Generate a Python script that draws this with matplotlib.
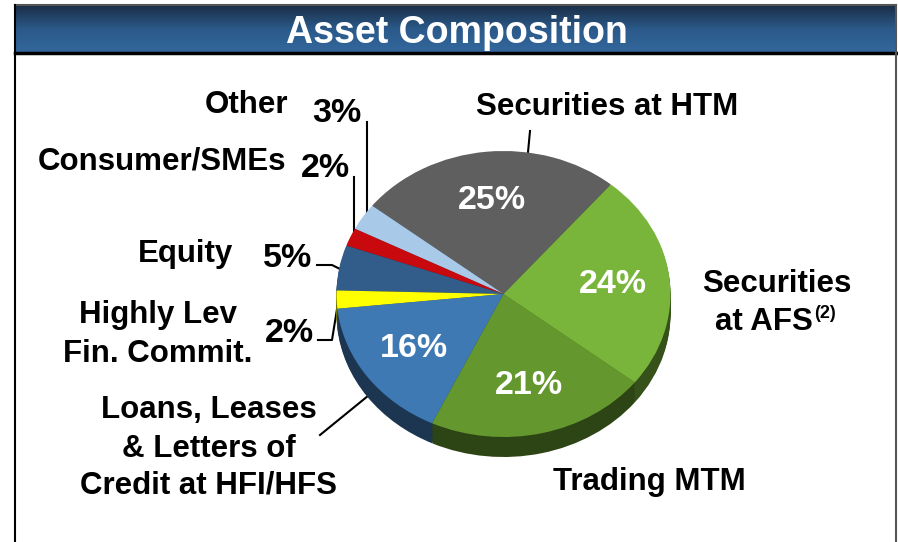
import numpy as np
import matplotlib.pyplot as plt
from matplotlib.colors import LinearSegmentedColormap, to_rgb

W, H = 898, 542

categories = ["Securities at HTM", "Other", "Consumer/SMEs", "Equity",
              "Highly Lev\nFin. Commit.",
              "Loans, Leases\n& Letters of\nCredit at HFI/HFS",
              "Trading MTM", "Securities\nat AFS"]
shares = [25, 3, 2, 5, 2, 16, 21, 24]
colors = ["#5f5f5f", "#a9c9e9", "#c8090e", "#325c8a",
          "#ffff00", "#3e79b4", "#64982f", "#79b53a"]

plt.rcParams['font.family'] = ['Liberation Sans', 'DejaVu Sans']
plt.rcParams['font.weight'] = 'bold'

fig = plt.figure(figsize=(W / 100, H / 100), dpi=100)
bg = fig.add_axes([0, 0, 1, 1])

# title bar with vertical gradient
grad = np.linspace(0, 1, 100).reshape(-1, 1)
cmap = LinearSegmentedColormap.from_list('bar', ['#1a2d46', '#2b5a8a', '#33679d'])
bg.imshow(grad, extent=[15, 896, 53, 5], cmap=cmap, aspect='auto', zorder=1)
bg.plot([15, 896], [5, 5], color='#555555', lw=1.5, zorder=2)
bg.plot([15, 896], [53, 53], color='black', lw=2.5, zorder=2)
bg.plot([15, 15], [5, H], color='black', lw=1.5, zorder=2)
bg.plot([896, 896], [5, H], color='#555555', lw=1.5, zorder=2)
bg.text(457, 43, "Asset Composition", color='white', fontsize=27,
        ha='center', va='baseline', zorder=3)
bg.set_xlim(0, W)
bg.set_ylim(H, 0)
bg.axis('off')

# pie, drawn as a tilted ellipse with a dark side band
cx, cy, rx, ry, depth = 503.5, 294, 167, 143, 20
lim = 1.3
pax = fig.add_axes([(cx - lim * rx) / W, (H - cy - lim * ry) / H,
                    2 * lim * rx / W, 2 * lim * ry / H])
side = [tuple(c * 0.45 for c in to_rgb(col)) for col in colors]
n = 14
for k in range(n, 0, -1):
    pax.pie(shares, colors=side, startangle=50, center=(0, -depth / ry * k / n),
            wedgeprops=dict(linewidth=0))
total = sum(shares)
wedges, texts, autotexts = pax.pie(
    shares, colors=colors, startangle=50, wedgeprops=dict(linewidth=0),
    autopct=lambda p: f"{round(p * total / 100)}%" if p * total / 100 >= 10 else "",
    pctdistance=0.66, textprops=dict(color='white', fontsize=24.5, fontweight='bold'))
pax.set_xlim(-lim, lim)
pax.set_ylim(-lim, lim)
pax.set_aspect('auto')
pax.axis('off')

# outer labels
fs = 22.5
pfs = 24.5


def lines(x, baselines, label, ha='center'):
    for y, part in zip(baselines, label.split("\n")):
        bg.text(x, y, part, fontsize=fs, ha=ha, va='baseline')


lines(607, [115], categories[0])
lines(288, [113], categories[1], ha='right')
bg.text(337, 122, f"{shares[1]}%", fontsize=pfs, ha='center', va='baseline')
lines(286, [170], categories[2], ha='right')
bg.text(325, 177, f"{shares[2]}%", fontsize=pfs, ha='center', va='baseline')
lines(233, [262], categories[3], ha='right')
bg.text(288, 267, f"{shares[3]}%", fontsize=pfs, ha='center', va='baseline')
lines(158, [323, 362], categories[4])
bg.text(289, 342, f"{shares[4]}%", fontsize=pfs, ha='center', va='baseline')
lines(209, [418, 457, 493], categories[5])
lines(649, [490], categories[6])
lines(777, [292], categories[7].split("\n")[0])
bg.text(813, 330, categories[7].split("\n")[1], fontsize=fs, ha='right', va='baseline')
bg.text(814, 318, "(2)", fontsize=13, ha='left', va='baseline')

# leader lines
lk = dict(color='black', lw=1.5, zorder=4)
bg.plot([530, 527], [131, 163], **lk)
bg.plot([367, 367], [122, 213], **lk)
bg.plot([354, 354], [177, 237], **lk)
bg.plot([317, 332, 342], [265, 265, 270], **lk)
bg.plot([318, 332, 338], [340, 340, 303], **lk)
bg.plot([320, 390], [435, 378], **lk)

fig.savefig("out.png", dpi=100)
